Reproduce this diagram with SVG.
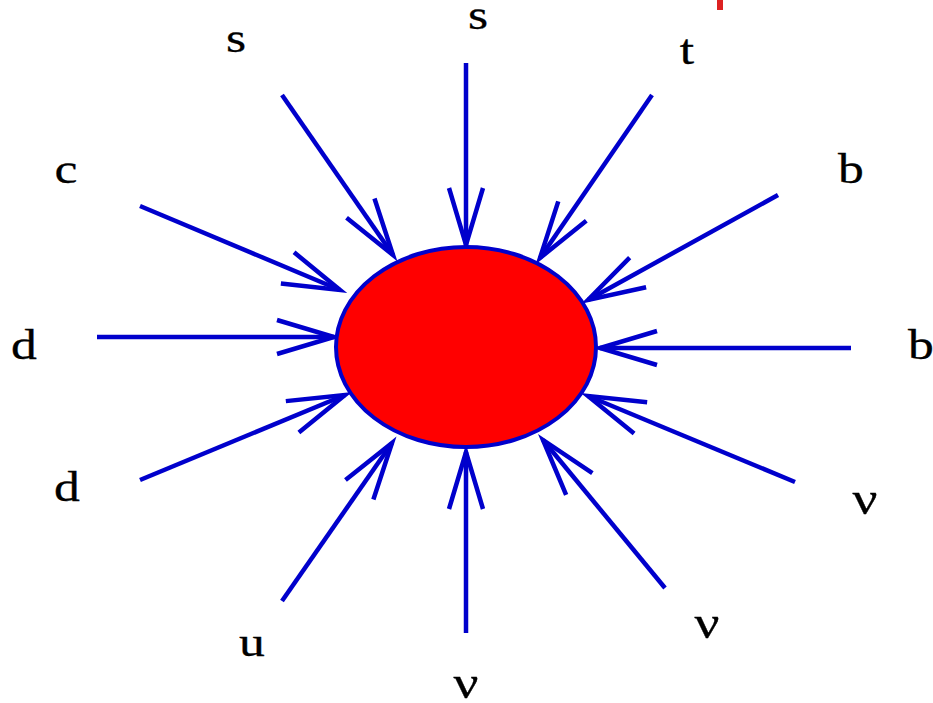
<svg xmlns="http://www.w3.org/2000/svg" width="933" height="703" viewBox="0 0 933 703">
<style>
.c{stroke:#0000cc;stroke-width:4.5;fill:none}
.t{font-family:"Liberation Serif","Times New Roman",serif;font-size:43px;fill:#000;stroke:#000;stroke-width:0.3;text-anchor:middle}
.n{font-size:46px}
</style>
<defs>
<marker id="ah" markerUnits="userSpaceOnUse" markerWidth="70" markerHeight="50" viewBox="-62 -25 70 50" refX="0" refY="0" orient="auto">
<path d="M-57,-17 L0,0 L-57,17" fill="none" stroke="#0000cc" stroke-width="4.5"/>
</marker>
</defs>
<rect x="717" y="0" width="6" height="10" fill="#dd2222"/>
<g id="connectors">
<line class="c" x1="466" y1="63" x2="466" y2="245" marker-end="url(#ah)"/>
<line class="c" x1="282" y1="95" x2="393" y2="255" marker-end="url(#ah)"/>
<line class="c" x1="652" y1="95" x2="540" y2="258" marker-end="url(#ah)"/>
<line class="c" x1="140" y1="206" x2="340" y2="290" marker-end="url(#ah)"/>
<line class="c" x1="778" y1="195" x2="588" y2="300" marker-end="url(#ah)"/>
<line class="c" x1="97" y1="337" x2="334" y2="337" marker-end="url(#ah)"/>
<line class="c" x1="851" y1="348" x2="600" y2="348" marker-end="url(#ah)"/>
<line class="c" x1="140" y1="480" x2="345" y2="395" marker-end="url(#ah)"/>
<line class="c" x1="795" y1="482" x2="588" y2="396" marker-end="url(#ah)"/>
<line class="c" x1="282" y1="601" x2="392" y2="443" marker-end="url(#ah)"/>
<line class="c" x1="466" y1="633" x2="466" y2="452" marker-end="url(#ah)"/>
<line class="c" x1="665" y1="588" x2="543" y2="440" marker-end="url(#ah)"/>
</g>
<g id="blob">
<ellipse cx="466" cy="347" rx="130" ry="100" fill="#ff0000" stroke="#0000cc" stroke-width="4"/>
</g>
<g id="labels">
<text class="t" transform="translate(236,52) scale(1.2,1)">s</text>
<text class="t" transform="translate(478,29) scale(1.2,1)">s</text>
<text class="t" transform="translate(687,64) scale(1.2,1)">t</text>
<text class="t" transform="translate(66,183) scale(1.2,1)">c</text>
<text class="t" transform="translate(851,183) scale(1.2,1)">b</text>
<text class="t" transform="translate(24,359) scale(1.2,1)">d</text>
<text class="t" transform="translate(921,359) scale(1.2,1)">b</text>
<text class="t" transform="translate(67,501) scale(1.2,1)">d</text>
<text class="t n" transform="translate(865,514) scale(1.2,1)">ν</text>
<text class="t" transform="translate(252,656) scale(1.2,1)">u</text>
<text class="t n" transform="translate(466,698) scale(1.2,1)">ν</text>
<text class="t n" transform="translate(707,638) scale(1.2,1)">ν</text>
</g>
</svg>
